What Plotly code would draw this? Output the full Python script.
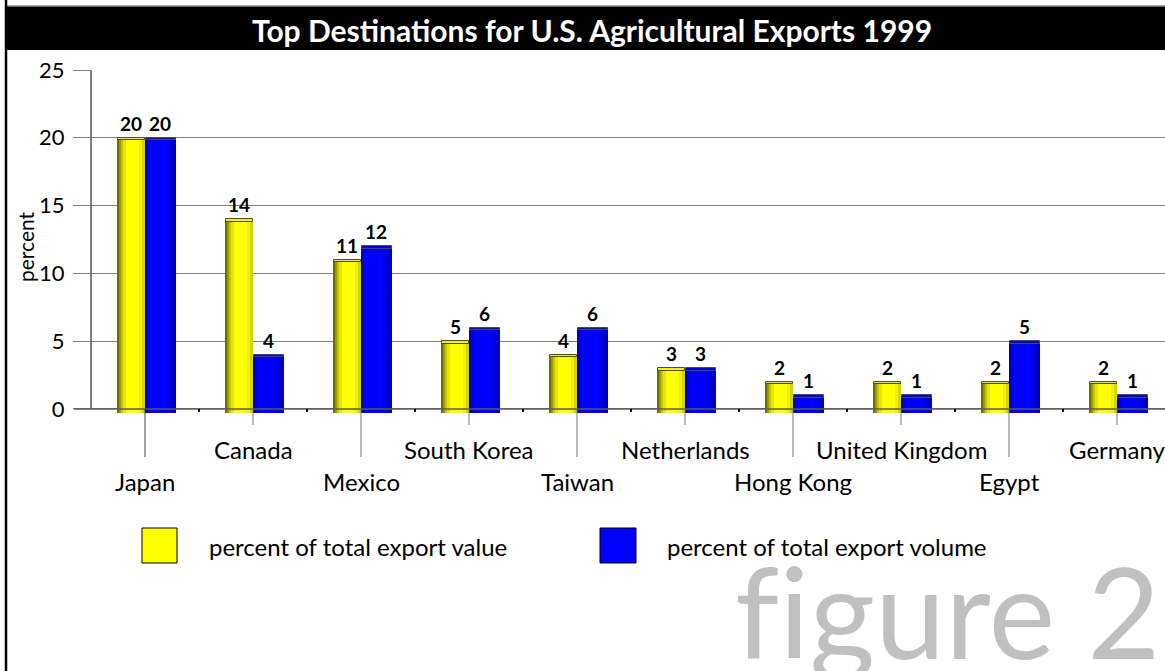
import plotly.graph_objects as go

# ---------------- data ----------------
countries = ["Japan", "Canada", "Mexico", "South Korea", "Taiwan",
             "Netherlands", "Hong Kong", "United Kingdom", "Egypt", "Germany"]
export_value = [20, 14, 11, 5, 4, 3, 2, 2, 2, 2]
export_volume = [20, 4, 12, 6, 6, 3, 1, 1, 5, 1]
y_ticks = [0, 5, 10, 15, 20, 25]
title_text = "Top Destinations for U.S. Agricultural Exports 1999"
legend_names = ["percent of total export value", "percent of total export volume"]
watermark = "f\u200cigure 2"

# ---------------- layout geometry ----------------
W, H = 1165, 671
L, R, T, B = 91, 0, 70, 258
PW, PH = W - L - R, H - T - B
CAT = 108.0                      # px per category
XMIN = -0.5
XMAX = XMIN + PW / CAT
BASE = -0.3                      # 3D base of bars below zero
YMAX = 25

def px(x):
    return (x - L) / PW

def py(y):
    return (H - B - y) / PH

FONT = "Lato, 'Open Sans', sans-serif"

# shading strips (px offsets from category centre, colour)
yellow_strips = [(-28, -26, "#6e6e00"), (-26, -24, "#9a9a00"), (-24, -22, "#c4c400"),
                 (-22, -19, "#e6e600"), (-19, -6, "#ffff00"), (-6, -3, "#f0f000"),
                 (-3, 0, "#d4d400")]
blue_strips = [(0, 2, "#0000b4"), (2, 5, "#0000d8"), (5, 22, "#0000ff"),
               (22, 26, "#0000e4"), (26, 31, "#0000c4")]

fig = go.Figure()
xs = list(range(len(countries)))

def add_series(vals, strips, cap_color):
    for s, e, c in strips:
        fig.add_trace(go.Bar(
            x=xs, y=[v - BASE for v in vals], base=[BASE] * len(vals),
            offset=s / CAT, width=(e - s) / CAT,
            marker=dict(color=c, line=dict(width=0)),
            showlegend=False, hoverinfo="skip"))
    s0, e0 = strips[0][0], strips[-1][1]
    fig.add_trace(go.Bar(
        x=xs, y=[0.18] * len(vals), base=[v - 0.18 for v in vals],
        offset=(s0 + 1) / CAT, width=(e0 - s0 - 1) / CAT,
        marker=dict(color=cap_color, line=dict(width=1, color="#4a4a4a")),
        showlegend=False, hoverinfo="skip"))

add_series(export_value, yellow_strips, "#f4f400")
add_series(export_volume, blue_strips, "#0000e8")

shapes = []
annotations = []

# title bar
shapes.append(dict(type="rect", xref="paper", yref="paper",
                   x0=px(5), x1=px(1175), y0=py(50), y1=py(6),
                   fillcolor="black", line=dict(width=0), layer="above"))
shapes.append(dict(type="line", xref="paper", yref="paper",
                   x0=px(5), x1=px(1175), y0=py(6), y1=py(6),
                   line=dict(color="#888888", width=1.5)))
# left border
shapes.append(dict(type="line", xref="paper", yref="paper",
                   x0=px(6), x1=px(6), y0=py(0), y1=py(H + 5),
                   line=dict(color="black", width=2.5)))
annotations.append(dict(text="<b>" + title_text + "</b>", xref="paper", yref="paper",
                        x=px(592), y=py(30), xanchor="center", yanchor="middle",
                        showarrow=False, font=dict(family=FONT, size=30, color="white")))

# y axis line
shapes.append(dict(type="line", xref="paper", yref="y",
                   x0=px(91), x1=px(91), y0=0, y1=YMAX,
                   line=dict(color="black", width=1)))
# zero line above bars
shapes.append(dict(type="line", xref="paper", yref="y",
                   x0=px(74), x1=px(1175), y0=0, y1=0,
                   line=dict(color="#5a5a5a", width=1.5), layer="above"))

def xpaper(xv):
    return (xv - XMIN) / (XMAX - XMIN)

# category ticks, staggered labels, small boundary dots
y0px = H - B - (0 - BASE) * PH / (YMAX - BASE)
for i, name in enumerate(countries):
    long = (i % 2 == 0)
    shapes.append(dict(type="line", xref="paper", yref="paper",
                       x0=xpaper(i), x1=xpaper(i), y0=py(y0px),
                       y1=py(457 if long else 425),
                       line=dict(color="#444444" if i == 0 else "#777777", width=1),
                       layer="above"))
    annotations.append(dict(text=name, xref="x", yref="paper", x=i,
                            y=py(482 if long else 449), xanchor="center",
                            yanchor="middle", showarrow=False,
                            font=dict(family=FONT, size=24, color="black")))
    if i < len(countries) - 1:
        shapes.append(dict(type="line", xref="paper", yref="paper",
                           x0=xpaper(i + 0.5), x1=xpaper(i + 0.5),
                           y0=py(y0px), y1=py(y0px + 3),
                           line=dict(color="black", width=2), layer="above"))

# value labels
for i in xs:
    annotations.append(dict(text="<b>%d</b>" % export_value[i], xref="x", yref="y",
                            x=i - 14 / CAT, y=export_value[i], yanchor="bottom",
                            yshift=1, showarrow=False,
                            font=dict(family=FONT, size=19, color="black")))
    annotations.append(dict(text="<b>%d</b>" % export_volume[i], xref="x", yref="y",
                            x=i + 15 / CAT, y=export_volume[i], yanchor="bottom",
                            yshift=1, showarrow=False,
                            font=dict(family=FONT, size=19, color="black")))

# legend
for (x0, x1, tx, col), name in zip([(142, 177, 207, "#ffff00"), (600, 636, 665, "#0000ff")],
                                   legend_names):
    shapes.append(dict(type="rect", xref="paper", yref="paper",
                       x0=px(x0), x1=px(x1), y0=py(563), y1=py(528),
                       fillcolor=col, line=dict(color="black", width=1)))
    annotations.append(dict(text=name, xref="paper", yref="paper",
                            x=px(tx), y=py(546), xanchor="left", yanchor="middle",
                            showarrow=False,
                            font=dict(family=FONT, size=24, color="black")))

# y axis title
annotations.append(dict(text="percent", xref="paper", yref="paper",
                        x=px(25), y=py(247), xanchor="center", yanchor="middle",
                        textangle=-90, showarrow=False,
                        font=dict(family=FONT, size=21, color="black")))

# watermark
annotations.append(dict(text=watermark, xref="paper", yref="paper",
                        x=px(733), y=py(610), xanchor="left", yanchor="middle",
                        showarrow=False,
                        font=dict(family=FONT, size=126, color="#c0c0c0")))

fig.update_layout(
    width=W, height=H,
    margin=dict(l=L, r=R, t=T, b=B, pad=0),
    paper_bgcolor="white", plot_bgcolor="white",
    barmode="overlay", bargap=0,
    showlegend=False,
    xaxis=dict(range=[XMIN, XMAX], showticklabels=False, showgrid=False,
               zeroline=False, showline=False, ticks="", fixedrange=True),
    yaxis=dict(range=[BASE, YMAX], tickvals=y_ticks, showgrid=True,
               gridcolor="#808080", gridwidth=1, zeroline=False, showline=False,
               ticks="outside", ticklen=17, tickcolor="#808080",
               ticklabelstandoff=4,
               tickfont=dict(family=FONT, size=22, color="black"), fixedrange=True),
    shapes=shapes, annotations=annotations,
)

fig.write_html("out.html", config={"displayModeBar": False})
